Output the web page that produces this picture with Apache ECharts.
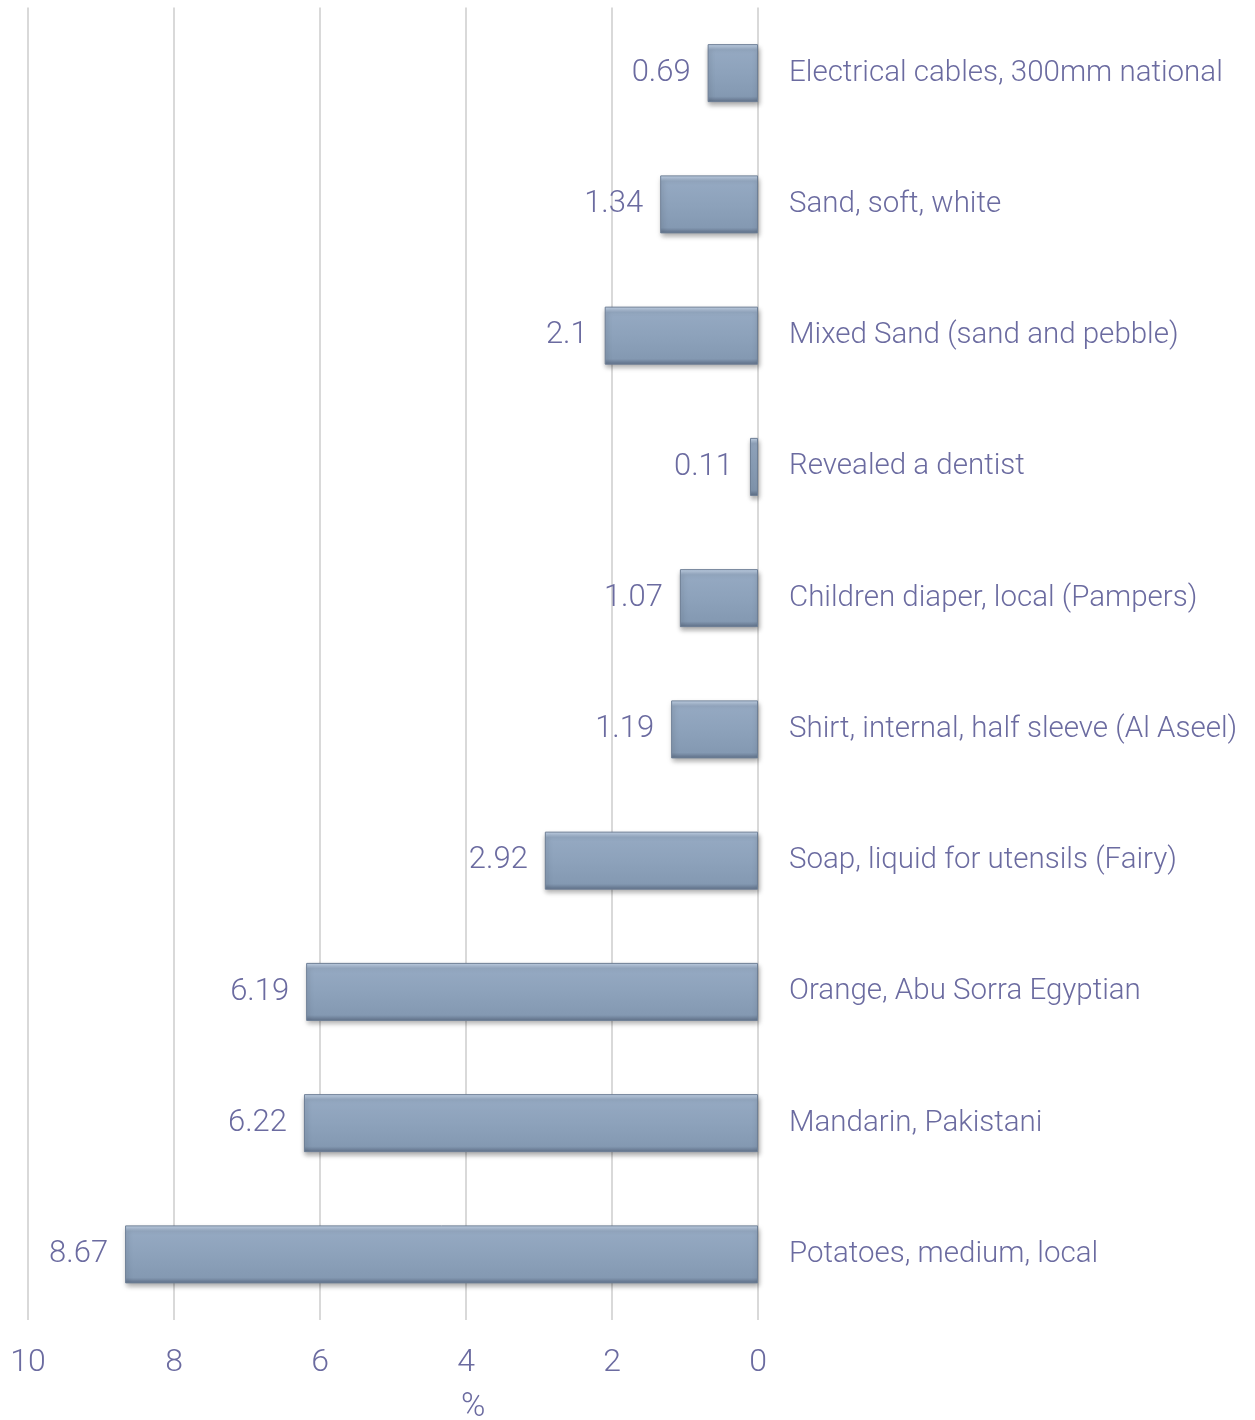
<!DOCTYPE html>
<html><head><meta charset="utf-8">
<script src="https://cdn.jsdelivr.net/npm/echarts@6/dist/echarts.min.js"></script>
<style>html,body{margin:0;padding:0;background:#fff}#c{width:1255px;height:1420px}</style>
</head><body><div id="c"></div>
<script>
const categories = [
  "Electrical cables, 300mm national",
  "Sand, soft, white",
  "Mixed Sand (sand and pebble)",
  "Revealed a dentist",
  "Children diaper, local (Pampers)",
  "Shirt, internal, half sleeve (Al Aseel)",
  "Soap, liquid for utensils (Fairy)",
  "Orange, Abu Sorra Egyptian",
  "Mandarin, Pakistani",
  "Potatoes, medium, local"
];
const values = [0.69, 1.34, 2.1, 0.11, 1.07, 1.19, 2.92, 6.19, 6.22, 8.67];
const axisTicks = [0, 2, 4, 6, 8, 10];

const txt = '#6b6ba0';
const font = 'Roboto';
const chart = echarts.init(document.getElementById('c'));
chart.setOption({
  animation: false,
  title: {text: '%', left: 461, top: 1391, padding: 0, textStyle: {color: txt, fontFamily: font, fontWeight: 300, fontSize: 33}},
  grid: {left: 28, right: 497, top: 7.5, bottom: 100},
  xAxis: {
    type: 'value', inverse: true, min: axisTicks[0], max: axisTicks[axisTicks.length-1], interval: 2,
    axisLine: {show: false}, axisTick: {show: false},
    splitLine: {lineStyle: {color: '#d9d9d9', width: 2}},
    axisLabel: {color: txt, fontFamily: font, fontWeight: 300, fontSize: 32, margin: 27}
  },
  yAxis: {
    type: 'category', data: categories, inverse: true, position: 'right',
    axisLine: {show: false}, axisTick: {show: false},
    axisLabel: {color: txt, fontFamily: font, fontWeight: 300, fontSize: 29.5, margin: 31}
  },
  series: [{
    type: 'bar', data: values, barWidth: 58,
    itemStyle: {
      color: new echarts.graphic.LinearGradient(0, 0, 0, 1, [
        {offset: 0, color: '#c6d6ea'},
        {offset: 0.1, color: '#95a9c2'},
        {offset: 0.5, color: '#8da2bb'},
        {offset: 0.9, color: '#8499b2'},
        {offset: 1, color: '#5f7088'}
      ]),
      borderColor: '#6e7f96', borderWidth: 1,
      shadowColor: 'rgba(0,0,0,0.35)', shadowBlur: 5, shadowOffsetY: 3, shadowOffsetX: 1
    },
    label: {show: true, position: 'left', distance: 17, color: txt, fontFamily: font, fontWeight: 300, fontSize: 31}
  }]
});
</script></body></html>
